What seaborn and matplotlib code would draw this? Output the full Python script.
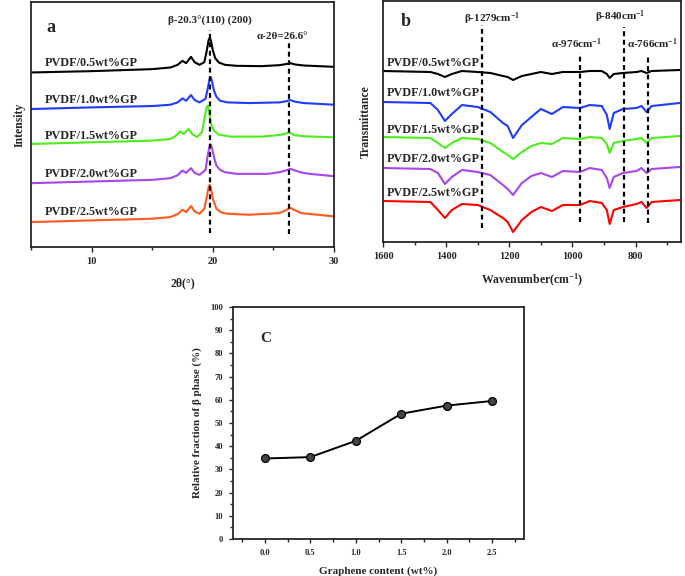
import numpy as np
import pandas as pd
import seaborn as sns
import matplotlib.pyplot as plt
from matplotlib.ticker import MultipleLocator, NullFormatter

# ---- panel a: XRD patterns (intensity in arbitrary, stacked units) ----
xrd_labels = ["PVDF/0.5wt%GP", "PVDF/1.0wt%GP", "PVDF/1.5wt%GP", "PVDF/2.0wt%GP", "PVDF/2.5wt%GP"]
xrd_colors = ["#000000", "#1e3cff", "#4cef1c", "#a845ee", "#ff5a1e"]

x_05 = [5, 10, 15, 16.5, 17.1, 17.5, 17.8, 18.2, 18.5, 18.9, 19.3, 19.5, 19.65, 19.75, 19.85, 20.0, 20.2, 20.5, 21, 22, 24, 25.5, 26.0, 26.4, 26.8, 27.5, 30]
y_05 = [525, 529, 535, 540, 548, 560, 553, 572, 556, 548, 556, 590, 622, 630, 620, 592, 568, 555, 548, 545, 544, 547, 550, 553, 549, 546, 542]
x_10 = [5, 10, 15, 16.5, 17.1, 17.5, 17.8, 18.2, 18.5, 18.9, 19.4, 19.6, 19.75, 19.85, 19.95, 20.1, 20.3, 20.6, 21.2, 23, 25.5, 26.0, 26.4, 26.8, 27.5, 30]
y_10 = [415, 420, 424, 428, 435, 447, 440, 457, 442, 435, 446, 480, 508, 510, 495, 470, 452, 440, 435, 433, 435, 438, 442, 437, 433, 428]
x_15 = [5, 10, 15, 16.5, 16.9, 17.3, 17.6, 18.0, 18.3, 18.7, 19.1, 19.35, 19.5, 19.6, 19.7, 19.85, 20.1, 20.5, 21.5, 24, 25.5, 26.0, 26.3, 26.7, 27.5, 30]
y_15 = [310, 315, 320, 325, 333, 347, 340, 355, 340, 331, 345, 395, 422, 425, 405, 370, 350, 338, 332, 332, 337, 341, 345, 337, 333, 330]
x_20 = [5, 10, 15, 16.5, 17.1, 17.5, 17.8, 18.2, 18.5, 18.9, 19.4, 19.6, 19.75, 19.85, 19.95, 20.1, 20.3, 20.6, 21.0, 22, 24.5, 25.5, 26.0, 26.4, 26.8, 27.3, 28, 30]
y_20 = [192, 197, 202, 207, 216, 230, 223, 237, 223, 217, 232, 280, 305, 308, 295, 270, 245, 232, 225, 220, 220, 225, 230, 235, 230, 224, 220, 213]
x_25 = [5, 10, 15, 16.5, 17.1, 17.5, 17.8, 18.2, 18.5, 18.9, 19.3, 19.5, 19.65, 19.75, 19.85, 20.0, 20.3, 20.7, 21.2, 23, 25.5, 26.0, 26.4, 26.8, 27.3, 30]
y_25 = [75, 80, 85, 90, 99, 112, 105, 123, 107, 100, 115, 150, 180, 187, 175, 145, 115, 104, 100, 97, 102, 110, 118, 110, 102, 92]
xrd_label_y = [552, 442, 335, 220, 105]

# ---- panel b: FTIR spectra (transmittance, stacked) ----
ir_colors = ["#000000", "#1e3cff", "#4cef1c", "#a845ee", "#ff0000"]
wavenumber = [1600, 1450, 1426, 1404, 1382, 1350, 1300, 1260, 1220, 1205, 1188, 1160, 1130, 1100, 1065, 1030, 976, 945, 907, 891, 882, 869, 840, 797, 781, 765, 749, 660]
t_05 = [171, 170, 168, 165, 168, 171, 170, 169, 166, 165, 162, 166, 168, 170, 168, 170, 170, 171, 171, 168, 164, 168, 169, 170, 171, 169, 171, 172]
t_10 = [140, 139, 132, 121, 128, 137, 135, 130, 119, 116, 104, 117, 125, 133, 128, 135, 134, 137, 136, 127, 113, 129, 133, 134, 136, 130, 136, 139]
t_15 = [105, 104, 99, 94, 99, 104, 103, 99, 90, 87, 83, 90, 96, 99, 98, 104, 103, 105, 104, 98, 89, 99, 101, 103, 104, 99, 104, 106]
t_20 = [74, 73, 69, 58, 65, 72, 70, 67, 57, 53, 47, 59, 66, 69, 65, 71, 70, 74, 72, 64, 54, 65, 69, 71, 74, 69, 73, 75]
t_25 = [41, 40, 32, 24, 32, 38, 37, 32, 24, 20, 10, 22, 30, 35, 31, 37, 37, 41, 39, 32, 18, 32, 35, 38, 40, 34, 40, 42]
ir_label_y = [179, 149, 112, 83, 49]
ir_bands = [1287, 977, 837, 761]
ir_band_names = ["β-1279cm$^{-1}$", "α-976cm$^{-1}$", "β-840cm$^{-1}$", "α-766cm$^{-1}$"]

# ---- panel c: beta fraction ----
graphene = [0.0, 0.5, 1.0, 1.5, 2.0, 2.5]
beta_frac = [34.7, 35.3, 42.3, 54.0, 57.5, 59.5]

sns.set_style("ticks")
plt.rcParams["font.family"] = ["Liberation Serif", "DejaVu Serif"]
plt.rcParams["font.weight"] = "bold"
plt.rcParams["mathtext.fontset"] = "custom"
plt.rcParams["mathtext.rm"] = "Liberation Serif:bold"
plt.rcParams["mathtext.it"] = "Liberation Serif:bold"
plt.rcParams["mathtext.bf"] = "Liberation Serif:bold"
plt.rcParams["axes.linewidth"] = 1.3
plt.rcParams["xtick.direction"] = "out"
plt.rcParams["ytick.direction"] = "out"

fig = plt.figure(figsize=(6.85, 5.76), dpi=100)
ax_a = fig.add_axes([31 / 685, 1 - 247 / 576, 303 / 685, 245 / 576])
ax_b = fig.add_axes([383 / 685, 1 - 242 / 576, 298 / 685, 241 / 576])
ax_c = fig.add_axes([233 / 685, 1 - 539 / 576, 291 / 685, 232 / 576])

lab_fs = 8.7
dash = (0, (2.2, 1.6))

# panel a
xrd = [(x_05, y_05), (x_10, y_10), (x_15, y_15), (x_20, y_20), (x_25, y_25)]
for (xs, ys), col, lab, ly in zip(xrd, xrd_colors, xrd_labels, xrd_label_y):
    sns.lineplot(x=xs, y=ys, ax=ax_a, color=col, linewidth=1.5, estimator=None)
    ax_a.text(6.1, ly, lab, fontsize=lab_fs, fontweight="bold", va="center", ha="left")
ax_a.vlines([19.75], 42, 652, colors="black", linestyles=dash, linewidth=1.6)
ax_a.vlines([26.3], 40, 620, colors="black", linestyles=dash, linewidth=1.6)
ax_a.text(19.75, 680, "β-20.3°(110) (200)", fontsize=8, fontweight="bold", ha="center", va="center")
ax_a.text(25.7, 632, "α-2θ=26.6°", fontsize=8, fontweight="bold", ha="center", va="center")
ax_a.text(6.3, 660, "a", fontsize=13, fontweight="bold", ha="left", va="center")
ax_a.set_xlim(5, 30)
ax_a.set_ylim(0, 737)
ax_a.xaxis.set_major_locator(MultipleLocator(10))
ax_a.xaxis.set_minor_locator(MultipleLocator(5))
ax_a.set_yticks([])
ax_a.set_xlabel("2θ(°)", fontsize=8.5, fontweight="bold", labelpad=8)
ax_a.set_ylabel("Intensity", fontsize=8.5, fontweight="bold", labelpad=4)
ax_a.tick_params(axis="x", which="major", length=3.5, width=1, labelsize=7.5)
ax_a.tick_params(axis="x", which="minor", length=2.5, width=1)

# panel b
ir = [t_05, t_10, t_15, t_20, t_25]
for ts, col, lab, ly in zip(ir, ir_colors, xrd_labels, ir_label_y):
    sns.lineplot(x=wavenumber, y=ts, ax=ax_b, color=col, linewidth=1.5, estimator=None)
    ax_b.text(1588, ly, lab, fontsize=lab_fs, fontweight="bold", va="center", ha="left")
ax_b.vlines(ir_bands[0], 14, 217, colors="black", linestyles=dash, linewidth=1.6)
ax_b.vlines(ir_bands[1], 20, 189, colors="black", linestyles=dash, linewidth=1.6)
ax_b.vlines(ir_bands[2], 20, 215, colors="black", linestyles=dash, linewidth=1.6)
ax_b.vlines(ir_bands[3], 19, 187, colors="black", linestyles=dash, linewidth=1.6)
ax_b.text(1255, 223, ir_band_names[0], fontsize=8, ha="center", va="center")
ax_b.text(986, 198, ir_band_names[1], fontsize=8, ha="center", va="center")
ax_b.text(850, 225, ir_band_names[2], fontsize=8, ha="center", va="center")
ax_b.text(745, 198, ir_band_names[3], fontsize=8, ha="center", va="center")
ax_b.text(1545, 220, "b", fontsize=13, fontweight="bold", ha="left", va="center")
ax_b.set_xlim(1600, 656)
ax_b.set_ylim(0, 241)
ax_b.xaxis.set_major_locator(MultipleLocator(200))
ax_b.xaxis.set_minor_locator(MultipleLocator(100))
ax_b.set_yticks([])
ax_b.set_xlabel("Wavenumber(cm$^{-1}$)", fontsize=8.5, fontweight="bold", labelpad=8)
ax_b.set_ylabel("Transmittance", fontsize=8.5, fontweight="bold", labelpad=8)
ax_b.tick_params(axis="x", which="major", length=3.5, width=1, labelsize=7.5)
ax_b.tick_params(axis="x", which="minor", length=2.5, width=1)

# panel c
sns.lineplot(x=graphene, y=beta_frac, ax=ax_c, color="black", linewidth=1.4, estimator=None)
sns.scatterplot(x=graphene, y=beta_frac, ax=ax_c, s=32, color="#444444", edgecolor="black", linewidth=0.9, zorder=5)
ax_c.text(-0.05, 86.5, "C", fontsize=11, fontweight="bold", ha="left", va="center")
ax_c.set_xlim(-0.35, 2.85)
ax_c.set_ylim(0, 100)
ax_c.xaxis.set_major_locator(MultipleLocator(0.5))
ax_c.xaxis.set_minor_locator(MultipleLocator(0.25))
ax_c.yaxis.set_major_locator(MultipleLocator(10))
ax_c.yaxis.set_minor_locator(MultipleLocator(5))
ax_c.set_xticks([0.0, 0.5, 1.0, 1.5, 2.0, 2.5])
ax_c.set_xticklabels(["0.0", "0.5", "1.0", "1.5", "2.0", "2.5"])
ax_c.set_xlabel("Graphene content (wt%)", fontsize=8, fontweight="bold", labelpad=7)
ax_c.set_ylabel("Relative fraction of β phase (%)", fontsize=8, fontweight="bold", labelpad=6)
ax_c.tick_params(axis="both", which="major", length=3, width=1, labelsize=6, pad=4)
ax_c.tick_params(axis="both", which="minor", length=2, width=1)

fig.savefig("out.png", dpi=100)
